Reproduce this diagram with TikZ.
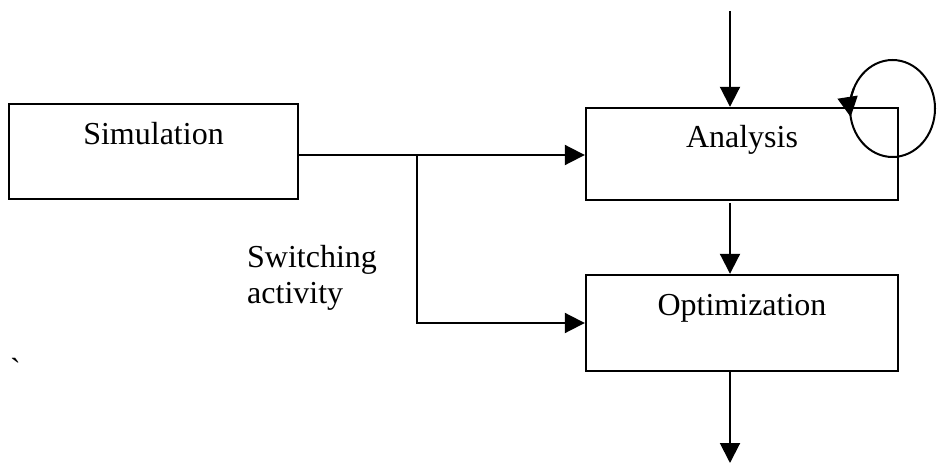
\documentclass[tikz,border=0pt]{standalone}
\usepackage{fontspec}
\setmainfont{Liberation Serif}
\newfontfamily\gravefont{Liberation Serif}[Ligatures=TeXOff]
\usetikzlibrary{arrows.meta}
\begin{document}
\begin{tikzpicture}[x=1pt,y=-1pt,
  box/.style={draw,line width=2.4pt,rectangle,inner sep=0pt},
  lbl/.style={font=\fontsize{32}{36}\selectfont,anchor=base,inner sep=0pt},
  conn/.style={line width=2pt},
  arr/.style={conn,-{Triangle[length=20pt,width=20pt]}}]
\useasboundingbox (0,0) rectangle (937,465);
\node[box,minimum width=289pt,minimum height=95pt] (sim) at (153.5,151.5) {};
\node[box,minimum width=312pt,minimum height=92pt] (ana) at (742,154) {};
\node[box,minimum width=312pt,minimum height=96pt] (opt) at (742,323) {};
\node[lbl] (simt) at (153.5,145) {Simulation};
\node[lbl] (anat) at (742,148) {Analysis};
\node[lbl] (optt) at (742,315) {Optimization};
\node[lbl,anchor=base west] (sw1) at (247,267) {Switching};
\node[lbl,anchor=base west] (sw2) at (247,303) {activity};
\node[lbl,anchor=base west] (gr) at (10,380) {\gravefont\symbol{96}};
\coordinate (top) at (730,11);
\coordinate (bot) at (730,463);
\coordinate (J) at (417,155);
\coordinate (K) at (417,323);
\draw[arr] (top) -- (top |- ana.north);
\draw[arr] (730,203) -- (top |- opt.north);
\draw[arr] (top |- opt.south) -- (bot);
\draw[arr] (sim.east |- J) -- (J) -- (J -| ana.west);
\draw[arr] (J) -- (K) -- (K -| opt.west);
\coordinate (cc) at (892.5,108.5);
\draw[conn] (cc) ellipse [x radius=42.5, y radius=48.5];
\draw[arr] (cc) ++(205:42.5 and 48.5) arc [start angle=205, end angle=170, x radius=42.5, y radius=48.5];
\end{tikzpicture}
\end{document}
